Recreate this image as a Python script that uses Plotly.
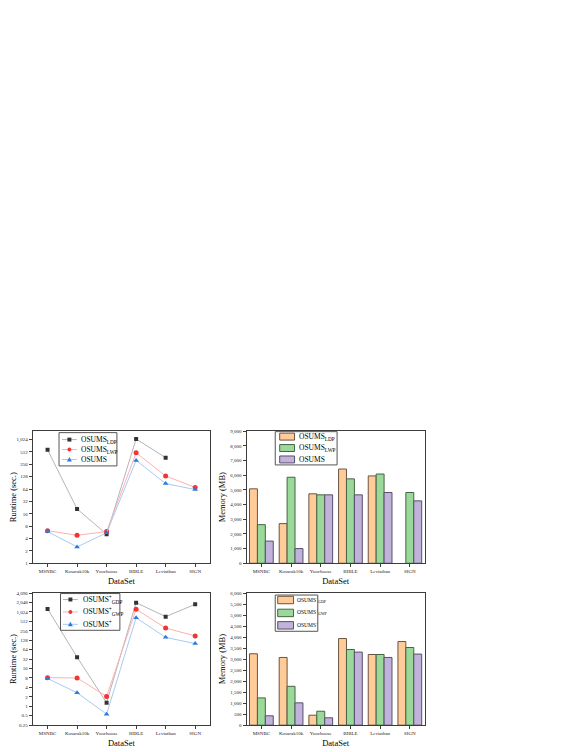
"""Runtime / memory comparison of OSUMS variants, 2x2 panel."""

import math

import plotly.graph_objects as go
from plotly.subplots import make_subplots

# page body keeps its default 8px margin, so the figure is drawn smaller
# and every pixel position below is given in window pixels
OFF = 8
W, H = 581 - OFF, 752 - OFF
FONT = "Liberation Serif"

datasets = ["MSNBC", "Kosarak10k", "Yoochoose", "BIBLE", "Leviathan", "SIGN"]

# runtime (sec.), top-left panel
runtime_ldp = [576, 21, 5.1, 1060, 370, None]
runtime_lwp = [6.2, 4.8, 5.9, 488, 133, 70]
runtime_osums = [5.9, 2.5, 5.5, 318, 87, 62]

# memory (MB), top-right panel
memory_ldp = [5070, 2700, 4730, 6420, 5950, None]
memory_lwp = [2630, 5860, 4660, 5750, 6080, 4820]
memory_osums = [1510, 1000, 4660, 4660, 4820, 4250]

# runtime (sec.), bottom-left panel
runtime_gdp = [1280, 37, 1.3, 2020, 724, 1790]
runtime_gwp = [8.2, 8.0, 2.07, 1250, 313, 175]
runtime_osums_plus = [7.7, 2.7, 0.56, 665, 158, 100]

# memory (MB), bottom-right panel
memory_gdp = [3242, 3075, 452, 3934, 3210, 3798]
memory_gwp = [1238, 1764, 633, 3436, 3210, 3527]
memory_osums_plus = [425, 1013, 335, 3318, 3075, 3228]

top_log_ticks = [1, 2, 4, 8, 16, 32, 64, 128, 256, 512, 1024]
bottom_log_ticks = [0.25, 0.5, 1, 2, 4, 8, 16, 32, 64, 128, 256, 512,
                    1024, 2048, 4096]

LINE_STYLES = [
    {"marker": "#333333", "line": "#b5b5b5", "symbol": "square", "size": 4},
    {"marker": "#f03535", "line": "#ffb0b0", "symbol": "circle", "size": 5},
    {"marker": "#2a78e4", "line": "#a6cbf3", "symbol": "triangle-up",
     "size": 5},
]
BAR_STYLES = [
    {"fill": "#ffcc99", "edge": "#6b5440"},
    {"fill": "#9ad99a", "edge": "#466446"},
    {"fill": "#c0b2da", "edge": "#575068"},
]


def px(x):
    return (x - OFF) / W


def py(y):
    return 1 - (y - OFF) / H


def tick_text(vals):
    return [f"{v:,}" if v >= 1 else f"{v:g}" for v in vals]


def add_lines(fig, row, col, series):
    for vals, st in zip(series, LINE_STYLES):
        fig.add_trace(go.Scatter(
            x=datasets, y=vals, mode="lines+markers",
            line={"color": st["line"], "width": 1},
            marker={"color": st["marker"], "symbol": st["symbol"],
                    "size": st["size"]},
            showlegend=False), row=row, col=col)


def add_bars(fig, row, col, series):
    for vals, st in zip(series, BAR_STYLES):
        fig.add_trace(go.Bar(
            x=datasets, y=vals,
            marker={"color": st["fill"],
                    "line": {"color": st["edge"], "width": 1}},
            showlegend=False), row=row, col=col)


def add_box(fig, x0, y0, x1, y1):
    fig.add_shape(type="rect", xref="paper", yref="paper",
                  x0=px(x0), x1=px(x1), y0=py(y1), y1=py(y0),
                  line={"color": "#555555", "width": 1},
                  fillcolor="white", layer="above")


def add_label(fig, x, y, text, size):
    fig.add_annotation(x=px(x), y=py(y), xref="paper", yref="paper",
                       text=text, showarrow=False, xanchor="left",
                       yanchor="middle", font={"size": size,
                                               "color": "black"})


def add_line_legend(fig, box, line_x, mark_x, text_x, rows, size):
    add_box(fig, *box)
    for (y, label), st in zip(rows, LINE_STYLES):
        fig.add_shape(type="line", xref="paper", yref="paper",
                      x0=px(line_x[0]), x1=px(line_x[1]),
                      y0=py(y), y1=py(y),
                      line={"color": st["line"], "width": 1},
                      layer="above")
        r = 2
        if st["symbol"] == "square":
            fig.add_shape(type="rect", xref="paper", yref="paper",
                          x0=px(mark_x - r), x1=px(mark_x + r),
                          y0=py(y + r), y1=py(y - r),
                          fillcolor=st["marker"], line={"width": 0},
                          layer="above")
        elif st["symbol"] == "circle":
            fig.add_shape(type="circle", xref="paper", yref="paper",
                          x0=px(mark_x - r), x1=px(mark_x + r),
                          y0=py(y + r), y1=py(y - r),
                          fillcolor=st["marker"], line={"width": 0},
                          layer="above")
        else:
            path = "M %f,%f L %f,%f L %f,%f Z" % (
                px(mark_x - 2.5), py(y + 2), px(mark_x + 2.5), py(y + 2),
                px(mark_x), py(y - 2.5))
            fig.add_shape(type="path", xref="paper", yref="paper",
                          path=path, fillcolor=st["marker"],
                          line={"width": 0}, layer="above")
        add_label(fig, text_x, y, label, size)


def add_bar_legend(fig, box, sw_x, sw_h, text_x, rows, size):
    add_box(fig, *box)
    for (y, label), st in zip(rows, BAR_STYLES):
        fig.add_shape(type="rect", xref="paper", yref="paper",
                      x0=px(sw_x[0]), x1=px(sw_x[1]),
                      y0=py(y + sw_h / 2), y1=py(y - sw_h / 2),
                      fillcolor=st["fill"],
                      line={"color": st["edge"], "width": 1},
                      layer="above")
        add_label(fig, text_x, y, label, size)


fig = make_subplots(rows=2, cols=2)

add_lines(fig, 1, 1, [runtime_ldp, runtime_lwp, runtime_osums])
add_bars(fig, 1, 2, [memory_ldp, memory_lwp, memory_osums])
add_lines(fig, 2, 1, [runtime_gdp, runtime_gwp, runtime_osums_plus])
add_bars(fig, 2, 2, [memory_gdp, memory_gwp, memory_osums_plus])

axis_common = {
    "showline": True, "linecolor": "#3c3c3c", "linewidth": 1,
    "mirror": True, "ticks": "outside", "ticklen": 3, "tickwidth": 1,
    "tickcolor": "#3c3c3c", "tickfont": {"size": 5, "color": "#222222"},
    "showgrid": False, "zeroline": False,
}
title_font = {"size": 8.5, "color": "black"}

left_dom = [px(27), px(206)]
right_dom = [px(243), px(423)]
top_dom = [py(565), py(432)]
bottom_dom = [py(728), py(595)]

for i, (xd, yd) in enumerate([(left_dom, top_dom), (right_dom, top_dom),
                              (left_dom, bottom_dom),
                              (right_dom, bottom_dom)], start=1):
    sfx = "" if i == 1 else str(i)
    fig.update_layout({
        "xaxis" + sfx: dict(axis_common, domain=xd,
                            range=[-0.5, 5.5],
                            title={"text": "DataSet", "font": title_font,
                                   "standoff": 4}),
        "yaxis" + sfx: dict(axis_common, domain=yd,
                            title={"font": title_font, "standoff": 3}),
    })

fig.update_layout(
    yaxis={"type": "log", "range": [0, math.log10(1640)],
           "tickvals": top_log_ticks, "ticktext": tick_text(top_log_ticks),
           "title_text": "Runtime (sec.)"},
    yaxis2={"range": [0, 9000], "dtick": 1000, "tickformat": ",",
            "title_text": "Memory (MB)"},
    yaxis3={"type": "log",
            "range": [math.log10(0.25), math.log10(4096)],
            "tickvals": bottom_log_ticks,
            "ticktext": tick_text(bottom_log_ticks),
            "title_text": "Runtime (sec.)"},
    yaxis4={"range": [0, 6000], "dtick": 500, "tickformat": ",",
            "title_text": "Memory (MB)"},
)

add_line_legend(
    fig, (53.5, 433.5, 112, 467), (56.5, 71.5), 64, 73.5,
    [(440.5, "OSUMS<sub>LDP</sub>"), (450.5, "OSUMS<sub>LWP</sub>"),
     (460.5, "OSUMS")], 7.5)
add_line_legend(
    fig, (55, 595.5, 115, 632.5), (57.5, 72.5), 65, 75.5,
    [(601.5, "OSUMS<sup>+</sup><sub>GDP</sub>"),
     (614, "OSUMS<sup>+</sup><sub>GWP</sub>"),
     (626.5, "OSUMS<sup>+</sup>")], 7.5)
add_bar_legend(
    fig, (272, 432.5, 334.5, 466), (276.5, 291.5), 7, 293.5,
    [(437.5, "OSUMS<sub>LDP</sub>"), (449, "OSUMS<sub>LWP</sub>"),
     (460.5, "OSUMS")], 7.5)
add_bar_legend(
    fig, (272, 597, 315, 633.5), (274.5, 290.5), 7.5, 292,
    [(602, "OSUMS<sup>+</sup><sub>GDP</sub>"),
     (615, "OSUMS<sup>+</sup><sub>GWP</sub>"),
     (627.5, "OSUMS<sup>+</sup>")], 5.5)

fig.update_layout(
    width=W, height=H,
    margin={"l": 0, "r": 0, "t": 0, "b": 0},
    paper_bgcolor="white", plot_bgcolor="white",
    font={"family": FONT, "color": "black"},
    barmode="group", bargap=0.2, bargroupgap=0,
    showlegend=False,
)

fig.write_html("out.html")
